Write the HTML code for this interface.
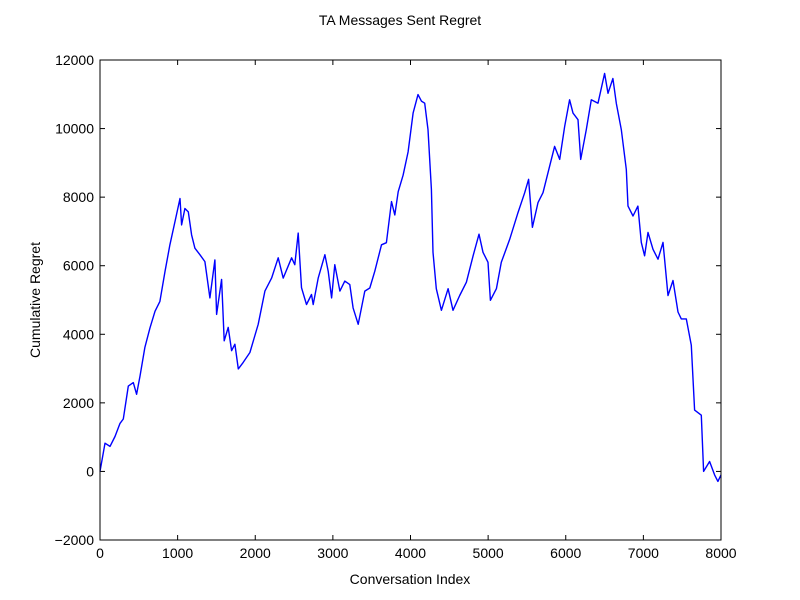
<!DOCTYPE html>
<html><head><meta charset="utf-8">
<style>
body{margin:0;background:#fff;}
svg{display:block;font-family:"Liberation Sans",sans-serif;}
</style></head>
<body>
<svg id="chart" width="800" height="600">
<rect width="800" height="600" fill="#fff"/>
<text x="400" y="25" text-anchor="middle" font-size="14">TA Messages Sent Regret</text>
<g id="axes"></g>
<path id="line" fill="none" stroke="#0000ff" stroke-width="1.4" stroke-linejoin="round"/>
<rect x="100" y="60" width="621" height="480" fill="none" stroke="#000" stroke-width="1"/>
<text x="410" y="584" text-anchor="middle" font-size="14">Conversation Index</text>
<text transform="translate(40,300) rotate(-90)" text-anchor="middle" font-size="14">Cumulative Regret</text>
</svg>
<script>
const xIdx=[0,64,129,193,258,300,365,429,472,515,579,644,708,772,837,901,966,1030,1051,1094,1137,1180,1223,1287,1352,1416,1480,1502,1566,1600,1652,1695,1738,1781,1845,1931,2038,2124,2210,2296,2360,2468,2510,2553,2596,2660,2725,2746,2811,2897,2940,2983,3025,3090,3154,3218,3261,3326,3411,3476,3540,3626,3690,3755,3798,3841,3905,3969,4033,4097,4140,4183,4226,4269,4290,4333,4398,4484,4548,4634,4720,4806,4883,4934,4999,5029,5106,5170,5278,5385,5471,5522,5570,5643,5707,5793,5857,5922,5986,6050,6093,6158,6192,6265,6329,6415,6501,6544,6608,6651,6716,6780,6802,6866,6930,6973,7016,7059,7124,7188,7253,7317,7381,7446,7489,7553,7617,7660,7746,7776,7853,7917,7960,8000];
const regret=[0,823,730,1020,1400,1530,2490,2590,2250,2780,3620,4190,4670,4960,5830,6610,7290,7960,7190,7670,7570,6900,6510,6320,6120,5060,6170,4580,5600,3810,4200,3520,3710,2990,3180,3470,4290,5260,5640,6230,5640,6230,6030,6950,5360,4870,5160,4870,5640,6320,5840,5060,6030,5260,5550,5450,4770,4290,5260,5350,5840,6610,6670,7870,7480,8160,8640,9320,10450,10990,10800,10740,9970,8230,6390,5330,4700,5330,4700,5130,5520,6290,6920,6390,6100,4990,5330,6100,6770,7550,8130,8520,7120,7840,8130,8910,9480,9100,10070,10840,10450,10260,9100,9970,10840,10740,11610,11030,11460,10740,9970,8810,7740,7450,7740,6680,6290,6970,6480,6190,6680,5130,5570,4650,4450,4450,3680,1790,1640,0,290,-100,-290,-100];
const xTicks=[0,1000,2000,3000,4000,5000,6000,7000,8000];
const yTicks=[-2000,0,2000,4000,6000,8000,10000,12000];
const X0=100,X1=721,Y0=540,Y1=60;
const sx=v=>X0+(v-0)/(8000-0)*(X1-X0);
const sy=v=>Y0-(v+2000)/(14000)*(Y0-Y1);
const ns="http://www.w3.org/2000/svg";
const axes=document.getElementById('axes');
function mk(tag,attrs,parent){const e=document.createElementNS(ns,tag);for(const k in attrs)e.setAttribute(k,attrs[k]);parent.appendChild(e);return e;}
xTicks.forEach(t=>{
  const x=sx(t);
  const a=mk('line',{x1:x,x2:x,y1:Y0,y2:Y0-5,stroke:'#000'},axes);
  
  
  const b=mk('line',{x1:x,x2:x,y1:Y1,y2:Y1+5,stroke:'#000'},axes);
  
  
  const l=mk('text',{x:x,y:Y0+18,'text-anchor':'middle','font-size':'14'},axes);
  l.textContent=t;
  
  
});
yTicks.forEach(t=>{
  const y=sy(t);
  const a=mk('line',{x1:X0,x2:X0+5,y1:y,y2:y,stroke:'#000'},axes);
  
  
  const b=mk('line',{x1:X1,x2:X1-5,y1:y,y2:y,stroke:'#000'},axes);
  
  
  const l=mk('text',{x:X0-6,y:y+5,'text-anchor':'end','font-size':'14'},axes);
  l.textContent=t<0?'\u2212'+Math.abs(t):t;
  
  
});
document.getElementById('line').setAttribute('d',xIdx.map((v,i)=>(i?'L':'M')+sx(v).toFixed(1)+','+sy(regret[i]).toFixed(1)).join(''));
</script>
</body></html>
